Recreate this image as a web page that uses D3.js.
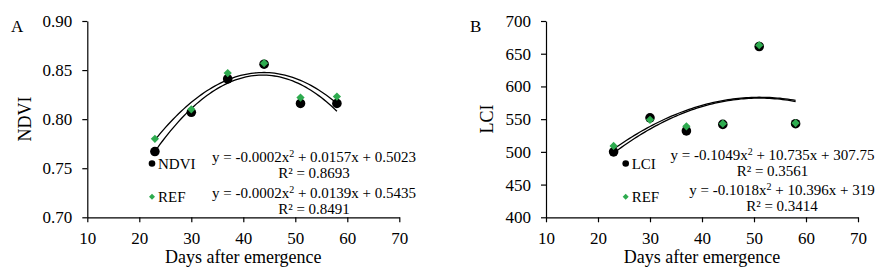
<!DOCTYPE html>
<html>
<head>
<meta charset="utf-8">
<script src="https://cdn.jsdelivr.net/npm/d3@7"></script>
<style>
  body { margin: 0; background: #fff; }
  svg text { font-family: "Liberation Serif", "Times New Roman", serif; fill: #000; }
  .tick text { font-size: 17px; }
  .axis path, .axis line { stroke: #000; stroke-width: 1.2; }
</style>
</head>
<body>
<div class="wrapper"></div>
<script>
const days = [23, 30, 37, 44, 51, 58]
const ndvi = [0.767, 0.807, 0.841, 0.856, 0.816, 0.816]
const ndviRef = [0.780, 0.810, 0.847, 0.857, 0.822, 0.823]
const lci = [500, 552, 532, 542, 661, 543]
const lciRef = [509, 549, 539, 543, 663, 544]

const xTicks = [10, 20, 30, 40, 50, 60, 70]
const ndviTicks = [0.70, 0.75, 0.80, 0.85, 0.90]
const lciTicks = [400, 450, 500, 550, 600, 650, 700]

const green = "#2eab4f"

// least squares quadratic fit, returns [a, b, c] for a*x^2 + b*x + c
function quadFit(xs, ys) {
    let s = Array(5).fill(0), t = [0, 0, 0]
    xs.forEach((x, i) => {
        for (let k = 0; k < 5; k++) s[k] += Math.pow(x, k)
        for (let k = 0; k < 3; k++) t[k] += Math.pow(x, k) * ys[i]
    })
    // matrix for [c, b, a]
    const m = [[s[0], s[1], s[2], t[0]], [s[1], s[2], s[3], t[1]], [s[2], s[3], s[4], t[2]]]
    for (let i = 0; i < 3; i++) {
        for (let j = i + 1; j < 3; j++) {
            const f = m[j][i] / m[i][i]
            for (let k = i; k < 4; k++) m[j][k] -= f * m[i][k]
        }
    }
    const r = [0, 0, 0]
    for (let i = 2; i >= 0; i--) {
        let v = m[i][3]
        for (let k = i + 1; k < 3; k++) v -= m[i][k] * r[k]
        r[i] = v / m[i][i]
    }
    return [r[2], r[1], r[0]]
}

const svg = d3.select(".wrapper").append("svg")
    .attr("width", 884)
    .attr("height", 280)

function drawPanel(opts) {
    const x = d3.scaleLinear().domain([10, 70]).range([opts.left, opts.left + 312])
    const y = d3.scaleLinear().domain(opts.domain).range([217.3, 21])

    svg.append("g").attr("class", "axis")
        .attr("transform", "translate(0,217.3)")
        .call(d3.axisBottom(x).tickValues(xTicks).tickSize(5).tickSizeOuter(0).tickPadding(10))
    svg.append("g").attr("class", "axis")
        .attr("transform", `translate(${opts.left},0)`)
        .call(d3.axisLeft(y).tickValues(opts.ticks).tickSize(5).tickSizeOuter(0).tickPadding(10)
            .tickFormat(opts.format))

    svg.append("text")
        .attr("x", opts.left + 156).attr("y", 263)
        .attr("text-anchor", "middle")
        .style("font-size", "18px")
        .text("Days after emergence")
    svg.append("text")
        .attr("transform", `translate(${opts.titleX},119) rotate(-90)`)
        .attr("text-anchor", "middle")
        .style("font-size", "18px")
        .text(opts.title)
    svg.append("text")
        .attr("x", opts.letterX).attr("y", 32)
        .style("font-size", "17px")
        .text(opts.letter)

    // trend lines
    const line = d3.line().x(d => x(d[0])).y(d => y(d[1]))
    ;[opts.main, opts.ref].forEach(vals => {
        const [a, b, c] = quadFit(days, vals)
        const pts = d3.range(23, 58.01, 0.5).map(d => [d, a * d * d + b * d + c])
        svg.append("path")
            .attr("d", line(pts))
            .attr("fill", "none")
            .attr("stroke", "#000")
            .attr("stroke-width", 1.3)
    })

    // points
    svg.append("g").selectAll("circle")
        .data(days)
        .enter().append("circle")
        .attr("cx", d => x(d))
        .attr("cy", (d, i) => y(opts.main[i]))
        .attr("r", 4.8)
        .attr("fill", "#000")
    svg.append("g").selectAll("path")
        .data(days)
        .enter().append("path")
        .attr("d", d3.symbol(d3.symbolSquare, 34))
        .attr("transform", (d, i) => `translate(${x(d)},${y(opts.ref[i])}) rotate(45)`)
        .attr("fill", green)

    // legend
    const lg = svg.append("g")
    lg.append("circle").attr("cx", opts.legX).attr("cy", 163.5).attr("r", 3.3).attr("fill", "#000")
    lg.append("text").attr("x", opts.legX + 6).attr("y", 168.5).style("font-size", "15px").text(opts.title)
    lg.append("path")
        .attr("d", d3.symbol(d3.symbolSquare, 18))
        .attr("transform", `translate(${opts.legX},196.7) rotate(45)`)
        .attr("fill", green)
    lg.append("text").attr("x", opts.legX + 6).attr("y", 202).style("font-size", "15px").text("REF")

    // equations
    opts.eqs.forEach(e => {
        const t = svg.append("text")
            .attr("x", e.x).attr("y", e.y)
            .attr("text-anchor", "middle")
            .style("font-size", "15px")
        t.append("tspan").text(e.parts[0])
        t.append("tspan").attr("dy", -5).style("font-size", "10px").text("2")
        t.append("tspan").attr("dy", 5).text(e.parts[1])
        svg.append("text")
            .attr("x", e.x).attr("y", e.y + 16.5)
            .attr("text-anchor", "middle")
            .style("font-size", "15px")
            .text(e.r2)
    })
}

drawPanel({
    left: 87.3, domain: [0.70, 0.90], ticks: ndviTicks, format: d3.format(".2f"),
    main: ndvi, ref: ndviRef, title: "NDVI", titleX: 31, letter: "A", letterX: 11,
    legX: 152,
    eqs: [
        {x: 314, y: 161.5, parts: ["y = -0.0002x", " + 0.0157x + 0.5023"], r2: "R² = 0.8693"},
        {x: 314, y: 197.5, parts: ["y = -0.0002x", " + 0.0139x + 0.5435"], r2: "R² = 0.8491"}
    ]
})

drawPanel({
    left: 546, domain: [400, 700], ticks: lciTicks, format: d3.format("d"),
    main: lci, ref: lciRef, title: "LCI", titleX: 493, letter: "B", letterX: 470,
    legX: 625.7,
    eqs: [
        {x: 772.5, y: 159.5, parts: ["y = -0.1049x", " + 10.735x + 307.75"], r2: "R² = 0.3561"},
        {x: 782, y: 194.5, parts: ["y = -0.1018x", " + 10.396x + 319"], r2: "R² = 0.3414"}
    ]
})
</script>
</body>
</html>
